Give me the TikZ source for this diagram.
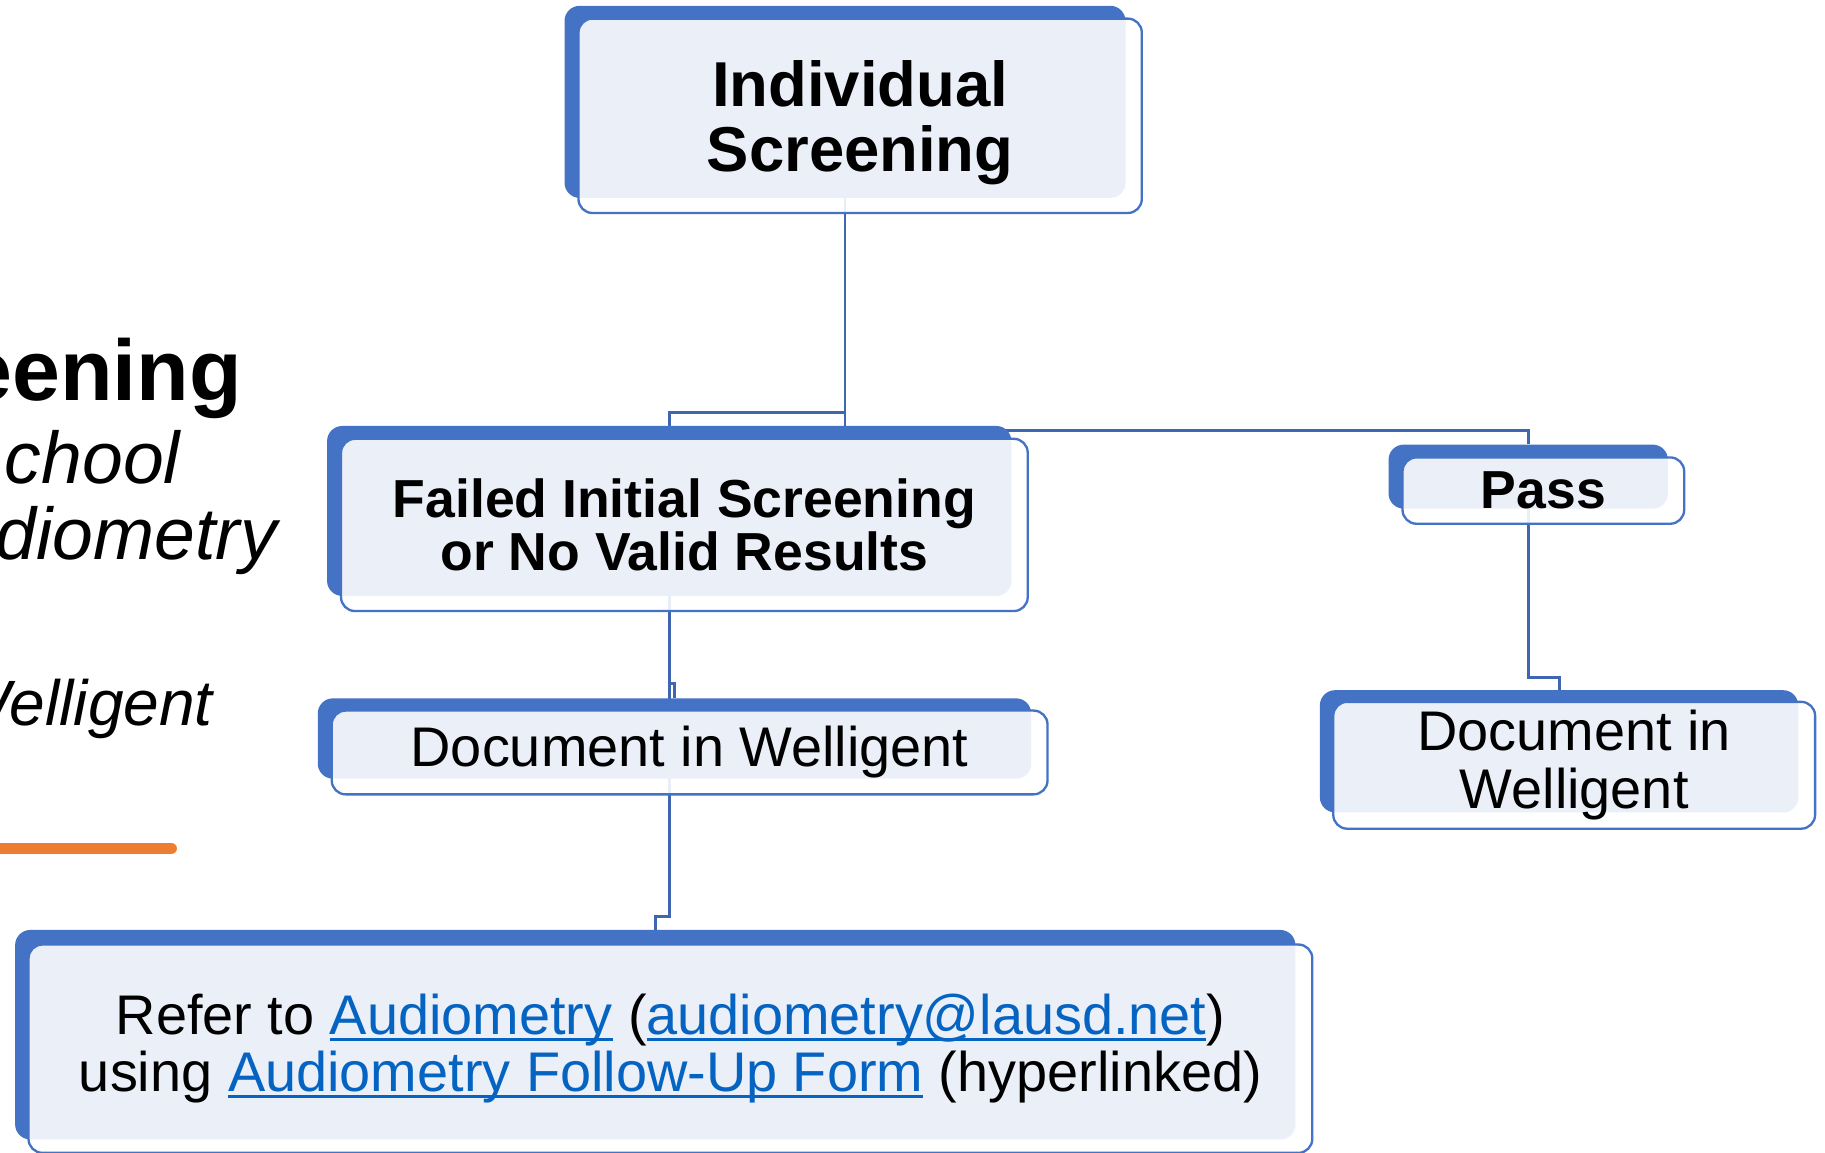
\documentclass[tikz,border=0pt]{standalone}
\usepackage{fontspec}
\setmainfont{Liberation Sans}
\usetikzlibrary{positioning,backgrounds}

\definecolor{boxblue}{HTML}{4472C4}
\definecolor{lineblue}{HTML}{3F67B1}
\definecolor{linkblue}{HTML}{0563C1}
\definecolor{markorange}{HTML}{ED7D31}

\newcommand\cardbig{\fontsize{54.5}{56}\selectfont\bfseries}
\newcommand\cardbold{\fontsize{46}{46}\selectfont\bfseries}
\newcommand\cardtext{\fontsize{48}{50}\selectfont}
\newcommand\cardlink{\fontsize{48}{49}\selectfont}
\newcommand\weblink[1]{{\color{linkblue}\setbox0\hbox{#1}\rlap{\rule[-0.12em]{\wd0}{0.06em}}\box0}}

\tikzset{
  back/.style={fill=boxblue, rounded corners=13pt, inner sep=0pt},
  card/.style={draw=boxblue, line width=2pt, fill=white, fill opacity=0.89, text opacity=1,
    rounded corners=12pt, inner sep=0pt, align=center, xshift=13pt, yshift=-12pt},
  conn/.style={draw=lineblue, line width=2.5pt},
  slidetext/.style={anchor=base east, inner sep=0pt},
}

\begin{document}
\begin{tikzpicture}[x=1pt,y=-1pt]
\useasboundingbox (0,0) rectangle (1568,990);

% slide text behind the chart
\node[slidetext, font=\fontsize{74}{74}\selectfont\bfseries] (slidetitle) at (208,344) {eening};
\node[slidetext, font=\fontsize{63}{63}\selectfont\itshape] (subone) at (155,415) {chool};
\node[slidetext, font=\fontsize{63}{63}\selectfont\itshape] (subtwo) at (238,481) {diometry};
\node[slidetext, font=\fontsize{55}{55}\selectfont\itshape] (subthree) at (183,623) {Welligent};
\draw[markorange, line width=10pt, line cap=round] (-10,729) -- (147,729);

% blue backs
\node[back, minimum width=482pt, minimum height=165pt] (topb) at (726,87.5) {};
\node[back, minimum width=588pt, minimum height=146pt] (failb) at (575,439) {};
\node[back, minimum width=240pt, minimum height=55pt] (passb) at (1313,409.5) {};
\node[back, minimum width=613pt, minimum height=69pt] (doconeb) at (579.5,634.5) {};
\node[back, minimum width=411pt, minimum height=105pt] (doctwob) at (1339.5,645.5) {};
\node[back, minimum width=1100pt, minimum height=180pt] (referb) at (563,889) {};

% cards with text
\node[card, font=\cardbig, text depth=0pt, minimum width=484pt, minimum height=167pt] (top) at (topb) {Individual\\Screening};
\node[card, font=\cardbold, minimum width=590pt, minimum height=148pt] (fail) at (failb) {Failed Initial Screening\\or No Valid Results};
\node[card, font=\cardbold, minimum width=242pt, minimum height=57pt] (pass) at (passb) {Pass};
\node[card, font=\cardtext, minimum width=615pt, minimum height=72pt] (docone) at (doconeb) {Document in Welligent};
\node[card, font=\cardtext, minimum width=414pt, minimum height=109pt] (doctwo) at (doctwob) {Document in\\Welligent};
\node[card, font=\cardlink, minimum width=1103pt, minimum height=179pt] (refer) at (referb)
  {Refer to \weblink{Audiometry} (\weblink{audiometry@lausd.net})\\
   using \weblink{Audiometry Follow-Up Form} (hyperlinked)};

% connectors
\begin{pgfonlayer}{background}
\draw[conn] (topb.south) -- ++(0,184) -| (failb.north);
\draw[conn] (topb.south) -- ++(0,199.5) -| (passb.north);
\draw[conn] (failb.south) -- ++(0,75) -| (doconeb.north);
\draw[conn] (failb.south) -- ++(0,275) -| (referb.north);
\draw[conn] (passb.south) -- ++(0,144.7) -| (doctwob.north);
\end{pgfonlayer}
\end{tikzpicture}
\end{document}
